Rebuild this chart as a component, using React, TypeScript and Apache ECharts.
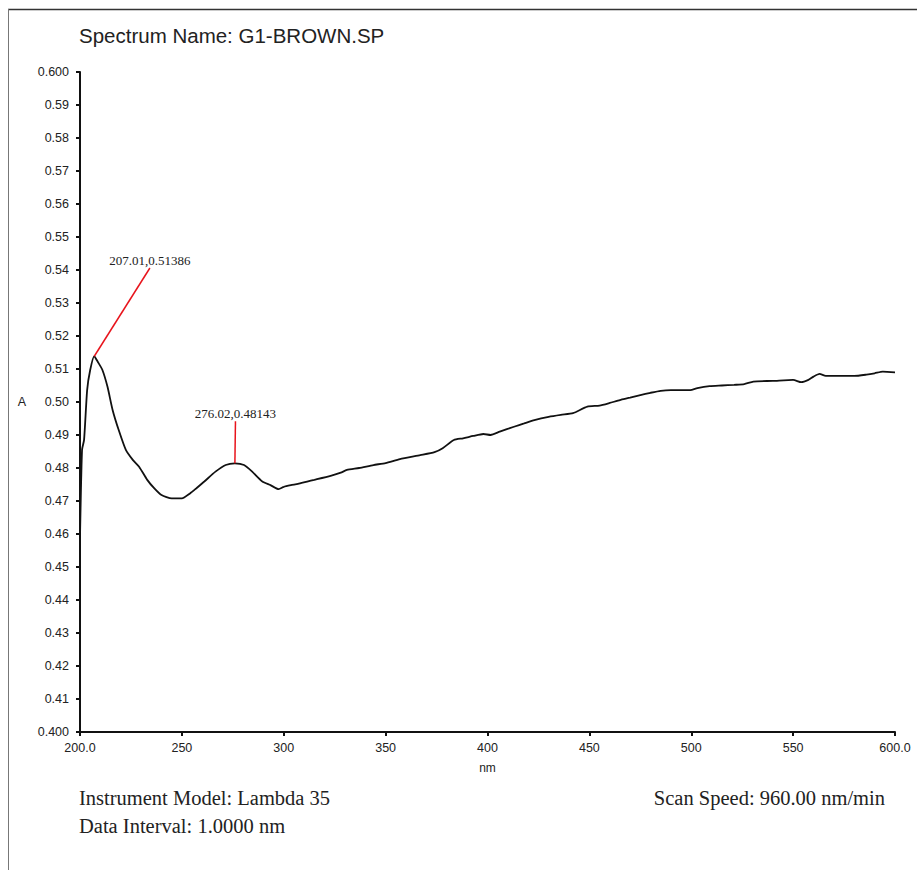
import React, { useEffect, useRef } from "react";
import * as echarts from "echarts";

// Spectrum data (wavelength nm, absorbance A)
const wavelengths = [
  200, 201, 202, 203.5, 205, 207, 208.7, 211, 213.5, 216, 219, 222.5, 226, 229, 233, 236.5, 240, 245, 250,
  254, 257, 261, 266.5, 271.5, 276, 280.5, 284.5, 289.5, 293.5, 297.5, 300, 303.5, 307, 311.5, 315, 323,
  328, 331, 337, 344, 350, 357, 367, 374, 378, 383.5, 388, 393, 398, 401.5, 406, 413, 418, 423, 430, 436,
  442, 449, 455, 460, 465, 470, 475, 480, 485, 490, 499.5, 503, 509, 515, 521, 526, 530.5, 540, 550, 554,
  557.5, 560, 563, 566, 570, 580, 586, 590, 594, 600,
];
const absorbance = [
  0.459, 0.4855, 0.4885, 0.5036, 0.5097, 0.5139, 0.5122, 0.5097, 0.5046, 0.4976, 0.4915, 0.4855, 0.4824,
  0.4804, 0.4764, 0.4738, 0.4718, 0.4708, 0.4708, 0.4723, 0.4738, 0.4759, 0.4789, 0.4809, 0.4814, 0.4809,
  0.4789, 0.4759, 0.4748, 0.4736, 0.4743, 0.4748, 0.4752, 0.4759, 0.4764, 0.4776, 0.4786, 0.4794, 0.48,
  0.4809, 0.4815, 0.4827, 0.4839, 0.4848, 0.486, 0.4885, 0.489, 0.4897, 0.4903, 0.49, 0.491, 0.4925,
  0.4935, 0.4945, 0.4955, 0.4961, 0.4966, 0.4986, 0.4989, 0.4997, 0.5006, 0.5013, 0.5021, 0.5028, 0.5034,
  0.5036, 0.5036, 0.5042, 0.5048, 0.505, 0.5052, 0.5054, 0.5062, 0.5064, 0.5067, 0.506, 0.5067, 0.5077,
  0.5085, 0.5079, 0.5079, 0.5079, 0.5083, 0.5087, 0.5092, 0.509,
];

// Peak annotations: peak point, label anchor point, label text
const peakCoords = [
  [207.01, 0.51386],
  [276.02, 0.48143],
];
const peakLabelAnchors = [
  [234.3, 0.5406],
  [276.3, 0.4942],
];
const peakLabels = ["207.01,0.51386", "276.02,0.48143"];

const xRange = [200, 600];
const yRange = [0.4, 0.6];
const xStep = 50;
const yStep = 0.01;

const titleText = "Spectrum Name: G1-BROWN.SP";
const footerLeft = ["Instrument Model: Lambda 35", "Data Interval: 1.0000 nm"];
const footerRight = "Scan Speed: 960.00 nm/min";

export default function App() {
  const ref = useRef<HTMLDivElement>(null);

  useEffect(() => {
    if (!ref.current) return;
    const chart = echarts.init(ref.current, undefined, { renderer: "svg" });
    const sans = "Liberation Sans";
    const serif = "Liberation Serif";
    const data = wavelengths.map((w, i) => [w, absorbance[i]]);

    chart.setOption({
      animation: false,
      backgroundColor: "#ffffff",
      grid: { left: 80, right: 22, top: 72, bottom: 138, containLabel: false },
      xAxis: {
        type: "value",
        min: xRange[0],
        max: xRange[1],
        interval: xStep,
        name: "nm",
        nameLocation: "middle",
        nameGap: 30,
        nameTextStyle: { fontFamily: sans, fontSize: 12, color: "#222" },
        axisLine: { show: true, onZero: false, lineStyle: { color: "#111", width: 2 } },
        axisTick: { show: true, length: 4, lineStyle: { color: "#111", width: 2 } },
        axisLabel: {
          margin: 9,
          fontFamily: sans,
          fontSize: 12.5,
          color: "#222",
          formatter: (v: number) =>
            v === xRange[0] || v === xRange[1] ? v.toFixed(1) : String(Math.round(v)),
        },
        splitLine: { show: false },
      },
      yAxis: {
        type: "value",
        min: yRange[0],
        max: yRange[1],
        interval: yStep,
        name: "A",
        nameLocation: "middle",
        nameRotate: 0,
        nameGap: 54,
        nameTextStyle: { fontFamily: sans, fontSize: 12.5, color: "#222" },
        axisLine: { show: true, onZero: false, lineStyle: { color: "#111", width: 2 } },
        axisTick: { show: true, length: 4, lineStyle: { color: "#111", width: 2 } },
        axisLabel: {
          margin: 11,
          fontFamily: sans,
          fontSize: 12.5,
          color: "#222",
          formatter: (v: number) =>
            Math.abs(v - yRange[0]) < 1e-9 || Math.abs(v - yRange[1]) < 1e-9
              ? v.toFixed(3)
              : v.toFixed(2),
        },
        splitLine: { show: false },
      },
      series: [
        {
          type: "line",
          data,
          showSymbol: false,
          symbol: "none",
          smooth: 0.2,
          lineStyle: { color: "#111", width: 1.8 },
          markLine: {
            silent: true,
            symbol: ["none", "none"],
            label: { show: false },
            lineStyle: { color: "#e8141c", width: 1.5, type: "solid" },
            data: peakCoords.map((p, i) => [{ coord: p }, { coord: peakLabelAnchors[i] }]),
          },
          markPoint: {
            silent: true,
            symbol: "circle",
            symbolSize: 0,
            data: peakLabelAnchors.map((a, i) => ({
              coord: a,
              label: {
                show: true,
                position: "top",
                distance: 1,
                formatter: peakLabels[i],
                fontFamily: serif,
                fontSize: 13,
                color: "#222",
              },
            })),
          },
        },
      ],
      graphic: [
        {
          type: "line",
          shape: { x1: 8, y1: 9.5, x2: 917, y2: 9.5 },
          style: { stroke: "#333", lineWidth: 1.5 },
        },
        {
          type: "line",
          shape: { x1: 8.5, y1: 9, x2: 8.5, y2: 870 },
          style: { stroke: "#777", lineWidth: 1 },
        },
        {
          type: "text",
          x: 79,
          y: 35,
          style: {
            text: titleText,
            fontFamily: sans,
            fontSize: 20.5,
            fill: "#222",
            textVerticalAlign: "middle",
          },
        },
        {
          type: "text",
          x: 79,
          y: 798,
          style: {
            text: footerLeft[0],
            fontFamily: serif,
            fontSize: 20.5,
            fill: "#222",
            textVerticalAlign: "middle",
          },
        },
        {
          type: "text",
          x: 79,
          y: 826,
          style: {
            text: footerLeft[1],
            fontFamily: serif,
            fontSize: 20.5,
            fill: "#222",
            textVerticalAlign: "middle",
          },
        },
        {
          type: "text",
          x: 885,
          y: 798,
          style: {
            text: footerRight,
            fontFamily: serif,
            fontSize: 20.5,
            fill: "#222",
            textAlign: "right",
            textVerticalAlign: "middle",
          },
        },
      ],
    });

    return () => chart.dispose();
  }, []);

  return (
    <div
      ref={ref}
      style={{ position: "absolute", left: 0, top: 0, width: 917, height: 870, background: "#fff" }}
    />
  );
}
